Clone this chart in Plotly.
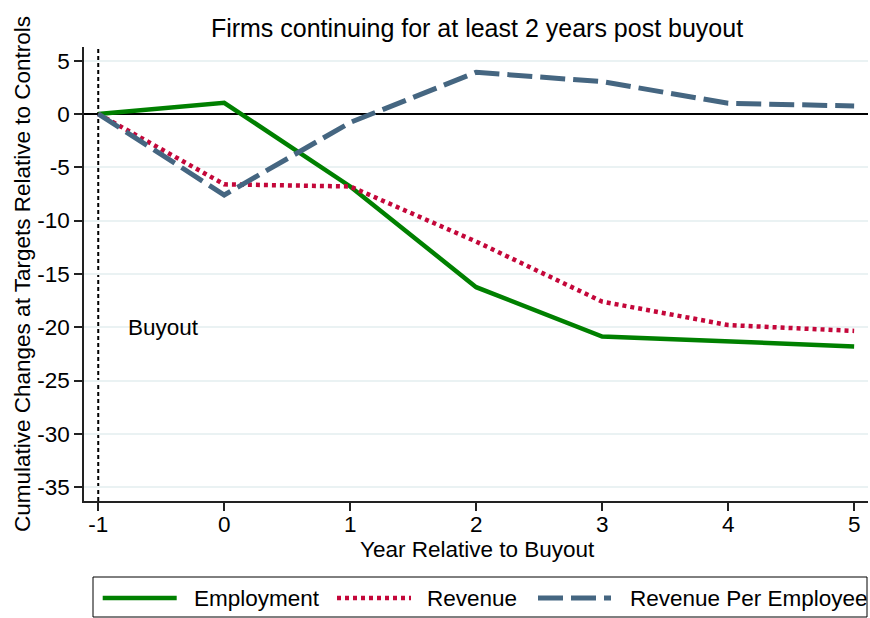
import plotly.graph_objects as go

years = [-1, 0, 1, 2, 3, 4, 5]
employment = [0, 1.05, -6.8, -16.25, -20.87, -21.35, -21.8]
revenue = [0, -6.6, -6.8, -11.97, -17.6, -19.8, -20.35]
rev_per_emp = [0, -7.6, -0.8, 3.91, 3.03, 1.0, 0.75]
y_ticks = [5, 0, -5, -10, -15, -20, -25, -30, -35]
y_labels = ["5", "0", "-5", "-10", "-15", "-20", "-25", "-30", "-35"]
x_ticks = [-1, 0, 1, 2, 3, 4, 5]
x_labels = ["-1", "0", "1", "2", "3", "4", "5"]
series_names = ["Employment", "Revenue", "Revenue Per Employee"]

FONT = "Liberation Sans, Arial, Helvetica, sans-serif"
FS = 22.5

# plot area in pixels
L, R, T, B = 84, 868, 47, 501
W, H = R - L, B - T


def px(x):
    return (x - L) / W


def py(y):
    return (B - y) / H


styles = [
    dict(color="#008000", width=4.5),
    dict(color="#c4073a", width=4.5, dash="4px,4px"),
    dict(color="#456681", width=5, dash="25px,8px"),
]
series = [employment, revenue, rev_per_emp]

fig = go.Figure()
for name, vals, st in zip(series_names, series, styles):
    fig.add_trace(go.Scatter(x=years, y=vals, mode="lines", name=name,
                             line=st, showlegend=False))

# buyout marker
fig.add_vline(x=-1, line=dict(color="black", width=2, dash="4px,3px"), layer="below")
fig.add_annotation(x=-0.78, y=-20, text="Buyout", showarrow=False, xanchor="left",
                   yanchor="middle", font=dict(size=FS, color="black", family=FONT))

# axis titles
fig.add_annotation(x=px(22), y=0.5, xref="paper", yref="paper", textangle=-90,
                   text="Cumulative Changes at Targets Relative to Controls",
                   showarrow=False, xanchor="center", yanchor="middle",
                   font=dict(size=FS, color="black", family=FONT))
fig.add_annotation(x=px(477), y=py(549), xref="paper", yref="paper",
                   text="Year Relative to Buyout", showarrow=False,
                   xanchor="center", yanchor="middle",
                   font=dict(size=FS, color="black", family=FONT))

# legend (drawn by hand to match the long Stata-style keys)
fig.add_shape(type="rect", xref="paper", yref="paper",
              x0=px(93), x1=px(867), y0=py(577), y1=py(617),
              line=dict(color="black", width=1), fillcolor="white", layer="above")
key_x = [(102.7, 176.7, 192), (337, 411, 425), (538, 611, 628)]
for name, st, (k0, k1, tx) in zip(series_names, styles, key_x):
    fig.add_shape(type="line", xref="paper", yref="paper",
                  x0=px(k0), x1=px(k1), y0=py(598), y1=py(598), line=st, layer="above")
    fig.add_annotation(x=px(tx), y=py(598), xref="paper", yref="paper", text=name,
                       showarrow=False, xanchor="left", yanchor="middle",
                       font=dict(size=FS, color="black", family=FONT))

fig.update_layout(
    width=870, height=618,
    margin=dict(l=L, r=870 - R, t=T, b=618 - B),
    plot_bgcolor="white", paper_bgcolor="white",
    font=dict(family=FONT, size=FS, color="black"),
    showlegend=False,
    title=dict(text="Firms continuing for at least 2 years post buyout",
               x=477 / 870, xanchor="center", y=1 - 28 / 618,
               yanchor="middle", font=dict(size=25, color="black", family=FONT)),
    xaxis=dict(range=[-1.113, 5.11], tickvals=x_ticks, ticktext=x_labels,
               ticks="outside", ticklen=8, automargin=False, ticklabelstandoff=-6,
               tickwidth=1.5, tickcolor="#222", showline=True, linecolor="#222",
               linewidth=1.5, showgrid=False, zeroline=False,
               tickfont=dict(size=FS, family=FONT)),
    yaxis=dict(range=[-36.3, 6.28], tickvals=y_ticks, ticktext=y_labels,
               ticks="outside", ticklen=8, automargin=False,
               tickwidth=1.5, tickcolor="#222", showline=True, linecolor="#222",
               linewidth=1.5, showgrid=True, gridcolor="#eaf2f3", gridwidth=1.5,
               zeroline=True, zerolinecolor="black", zerolinewidth=1.5,
               tickfont=dict(size=FS, family=FONT)),
)

fig.write_html("out.html", config={"displayModeBar": False},
               post_script="document.body.style.margin='0';")
